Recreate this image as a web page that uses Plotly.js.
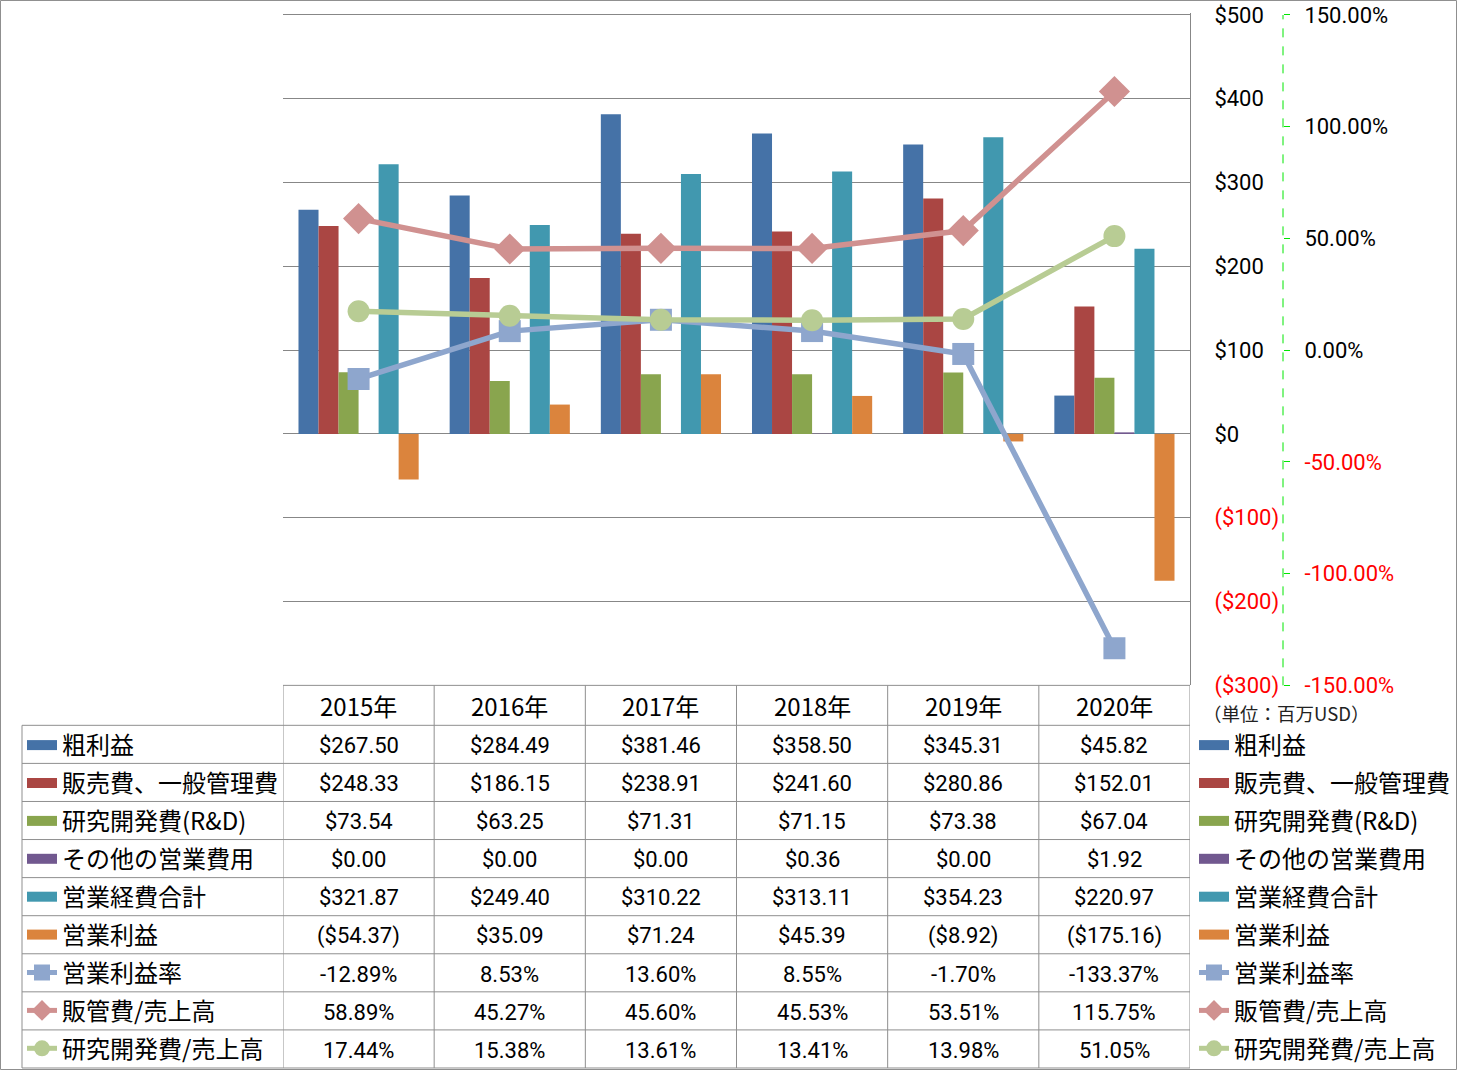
<!DOCTYPE html>
<html>
<head>
<meta charset="utf-8">
<script src="https://cdn.plot.ly/plotly-3.0.1.min.js"></script>
<style>
  html, body { margin: 0; padding: 0; background: #fff; }
  #chart { width: 1457px; height: 1071px; }
</style>
</head>
<body>
<div id="chart"></div>
<script>
// 年度
const years = ['2015年', '2016年', '2017年', '2018年', '2019年', '2020年'];

// 金額 (百万USD)
const grossProfit = [267.50, 284.49, 381.46, 358.50, 345.31, 45.82];
const sgaExpense = [248.33, 186.15, 238.91, 241.60, 280.86, 152.01];
const rdExpense = [73.54, 63.25, 71.31, 71.15, 73.38, 67.04];
const otherExpense = [0.00, 0.00, 0.00, 0.36, 0.00, 1.92];
const totalOpExpense = [321.87, 249.40, 310.22, 313.11, 354.23, 220.97];
const operatingIncome = [-54.37, 35.09, 71.24, 45.39, -8.92, -175.16];

// 比率 (%)
const opMargin = [-12.89, 8.53, 13.60, 8.55, -1.70, -133.37];
const sgaRatio = [58.89, 45.27, 45.60, 45.53, 53.51, 115.75];
const rdRatio = [17.44, 15.38, 13.61, 13.41, 13.98, 51.05];

// 軸の目盛
const moneyTicks = [-300, -200, -100, 0, 100, 200, 300, 400, 500];
const pctTicks = [-150, -100, -50, 0, 50, 100, 150];

const barNames = ['粗利益', '販売費、一般管理費', '研究開発費(R&D)', 'その他の営業費用', '営業経費合計', '営業利益'];
const barValues = [grossProfit, sgaExpense, rdExpense, otherExpense, totalOpExpense, operatingIncome];
const barColors = ['#4572A7', '#AA4643', '#89A54E', '#71588F', '#4198AF', '#DB843D'];

const lineNames = ['営業利益率', '販管費/売上高', '研究開発費/売上高'];
const lineValues = [opMargin, sgaRatio, rdRatio];
const lineColors = ['#8EA6CD', '#D09190', '#B8CC94'];
const lineSymbols = ['square', 'diamond', 'circle'];
const lineSizes = [22, 24, 22];

const W = 1457, H = 1071;
const px = p => p / W;
const py = p => (H - p) / H;
const FONT = '"Noto Sans CJK JP", "Noto Sans", sans-serif';
const NUMFONT = 'Roboto, "Noto Sans CJK JP", sans-serif';
const GRID = '#878787';
const TABLE = '#8f8f8f';
const GREEN = '#00e600';
const RED = '#ff0000';

// プロット領域: $500 は 15px、-$300 は 686px。上端は少し余裕を持たせる
const plotTop = 13, plotBottom = 686, topTick = 15;
const moneyPerPx = 800 / (plotBottom - topTick);
const pctPerPx = 300 / (plotBottom - topTick);

const money = v => v < 0 ? '($' + Math.abs(v).toFixed(2) + ')' : '$' + v.toFixed(2);
const pct = v => v.toFixed(2) + '%';
const red = s => '<span style="color:' + RED + '">' + s + '</span>';

const traces = [];
barNames.forEach((n, i) => {
  traces.push({
    type: 'bar', name: n, x: years, y: barValues[i],
    marker: { color: barColors[i] }, showlegend: false, hoverinfo: 'skip'
  });
});
lineNames.forEach((n, i) => {
  traces.push({
    type: 'scatter', mode: 'lines+markers', name: n, x: years, y: lineValues[i], yaxis: 'y2',
    line: { color: lineColors[i], width: 5.5 },
    marker: { symbol: lineSymbols[i], size: lineSizes[i], color: lineColors[i] },
    showlegend: false, hoverinfo: 'skip'
  });
});

// 凡例 (表の左列と右側の2か所)
['legend', 'legend2'].forEach(lg => {
  barNames.forEach((n, i) => {
    traces.push({
      type: 'scatter', mode: 'lines', name: n, x: [null], y: [null],
      line: { color: barColors[i], width: 12 }, legend: lg, legendgroup: lg + i
    });
  });
  lineNames.forEach((n, i) => {
    traces.push({
      type: 'scatter', mode: 'lines+markers', name: n, x: [null], y: [null],
      line: { color: lineColors[i], width: 5 },
      marker: { symbol: lineSymbols[i], size: 16, color: lineColors[i] },
      legend: lg, legendgroup: lg + 'l' + i
    });
  });
});

// データテーブル
const tableRows = [
  grossProfit.map(money), sgaExpense.map(money), rdExpense.map(money),
  otherExpense.map(money), totalOpExpense.map(money), operatingIncome.map(money),
  opMargin.map(pct), sgaRatio.map(pct), rdRatio.map(pct)
];
const headTop = 686, headBottom = 726, rowH = 38.11;
const rowTop = r => headBottom + r * rowH;

const annotations = [];
years.forEach((yr, c) => {
  annotations.push({
    x: yr, xref: 'x', y: py((headTop + headBottom) / 2), yref: 'paper',
    text: yr, showarrow: false, yanchor: 'middle', font: { size: 24, color: '#000' }
  });
});
tableRows.forEach((row, r) => {
  row.forEach((t, c) => {
    annotations.push({
      x: years[c], xref: 'x', y: py(rowTop(r) + rowH / 2 + 1.2), yref: 'paper',
      text: t, showarrow: false, yanchor: 'middle', font: { family: NUMFONT, size: 22, color: '#000' }
    });
  });
});
annotations.push({
  x: px(1201), xref: 'paper', y: py(714), yref: 'paper', xanchor: 'left', yanchor: 'middle',
  text: '（単位：百万USD）', showarrow: false, font: { size: 18.5, color: '#222' }
});

const shapes = [];
const tl = { color: TABLE, width: 1 };
shapes.push({ type: 'line', xref: 'paper', yref: 'paper', x0: px(283), x1: px(1190), y0: py(headTop), y1: py(headTop), line: tl });
for (let r = 0; r <= tableRows.length; r++) {
  shapes.push({ type: 'line', xref: 'paper', yref: 'paper', x0: px(22), x1: px(1190), y0: py(rowTop(r)), y1: py(rowTop(r)), line: tl });
}
shapes.push({ type: 'line', xref: 'paper', yref: 'paper', x0: px(22), x1: px(22), y0: py(headBottom), y1: py(rowTop(tableRows.length)), line: tl });
for (let c = 0; c <= years.length; c++) {
  shapes.push({ type: 'line', xref: 'x', yref: 'paper', x0: c - 0.5, x1: c - 0.5, y0: py(headTop), y1: py(rowTop(tableRows.length)), line: tl });
}
// 第2軸の破線
shapes.push({ type: 'line', xref: 'paper', yref: 'paper', x0: px(1283), x1: px(1283), y0: py(686), y1: py(15), line: { color: GREEN, width: 1, dash: 'dash' } });
// 外枠
shapes.push({ type: 'rect', xref: 'paper', yref: 'paper', x0: px(0.5), x1: px(1456.5), y0: py(1070.5), y1: py(0.5), line: { color: TABLE, width: 1 } });

const legendBase = {
  yanchor: 'top', xanchor: 'left', y: py(724), traceorder: 'grouped', tracegroupgap: 3.7,
  bgcolor: 'rgba(0,0,0,0)', font: { size: 24, color: '#000' }, itemclick: false, itemdoubleclick: false
};

const layout = {
  width: W, height: H,
  margin: { l: 0, r: 0, t: 0, b: 0 },
  paper_bgcolor: '#fff', plot_bgcolor: '#fff',
  font: { family: FONT, size: 24, color: '#000' },
  barmode: 'group', bargap: 0.205, bargroupgap: 0,
  hovermode: false,
  xaxis: {
    type: 'category', domain: [px(283), px(1190)], range: [-0.5, 5.5],
    showticklabels: false, showgrid: false, zeroline: false, showline: false, ticks: '', fixedrange: true
  },
  yaxis: {
    domain: [py(plotBottom), py(plotTop)], range: [-300, 500 + moneyPerPx * (topTick - plotTop)],
    side: 'right', anchor: 'x',
    tickvals: moneyTicks,
    ticktext: moneyTicks.map(v => v < 0 ? red('($' + Math.abs(v) + ')') : '$' + v),
    showline: true, linecolor: GRID, linewidth: 1,
    showgrid: true, gridcolor: GRID, gridwidth: 1,
    zeroline: true, zerolinecolor: GRID, zerolinewidth: 1,
    ticks: '', ticklabelstandoff: 19, ticklabeloverflow: 'allow',
    tickfont: { family: NUMFONT, size: 22 }, fixedrange: true
  },
  yaxis2: {
    overlaying: 'y', side: 'right', anchor: 'free', position: px(1283),
    range: [-150, 150 + pctPerPx * (topTick - plotTop)],
    tickvals: pctTicks,
    ticktext: pctTicks.map(v => v < 0 ? red(pct(v)) : pct(v)),
    showgrid: false, zeroline: false, showline: false,
    ticks: 'outside', ticklen: 6, tickcolor: GREEN, tickwidth: 1,
    ticklabelstandoff: 10, ticklabeloverflow: 'allow',
    tickfont: { family: NUMFONT, size: 22 }, fixedrange: true
  },
  yaxis3: {
    overlaying: 'y', side: 'left', anchor: 'x',
    range: [-150, 150 + pctPerPx * (topTick - plotTop)],
    tickvals: [-100, -50, 50, 100], showticklabels: false, ticks: '',
    showgrid: true, gridcolor: GREEN, gridwidth: 1, griddash: 'dash',
    zeroline: false, showline: false, fixedrange: true
  },
  legend: Object.assign({}, legendBase, { x: px(1194) }),
  legend2: Object.assign({}, legendBase, { x: px(22) }),
  annotations: annotations,
  shapes: shapes
};

Plotly.newPlot('chart', traces, layout, { displayModeBar: false, staticPlot: true });
</script>
</body>
</html>
